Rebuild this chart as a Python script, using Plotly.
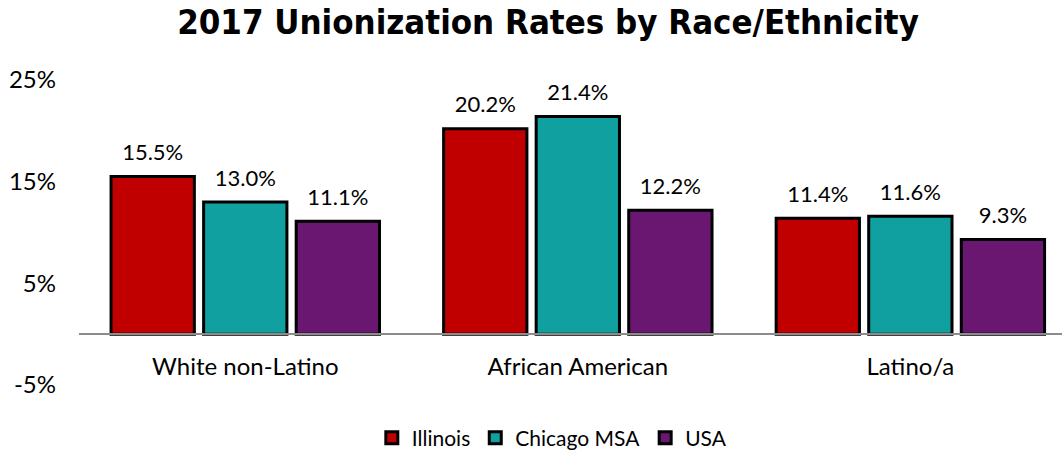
import plotly.graph_objects as go

# data
groups = ["White non-Latino", "African American", "Latino/a"]
illinois = [15.5, 20.2, 11.4]
chicago = [13.0, 21.4, 11.6]
usa = [11.1, 12.2, 9.3]

series = [
    ("Illinois", illinois, "#C00000"),
    ("Chicago MSA", chicago, "#11A0A0"),
    ("USA", usa, "#6A1771"),
]

font_main = "Lato, Open Sans, sans-serif"
gap = 0.165

fig = go.Figure()

for name, vals, col in series:
    fig.add_trace(go.Bar(
        x=groups, y=vals, name=name, offsetgroup=name,
        marker=dict(color=col, line=dict(color="black", width=3)),
    ))

# value labels as text-only scatter, grouped to sit over each bar
for name, vals, col in series:
    fig.add_trace(go.Scatter(
        x=groups, y=vals, offsetgroup=name, mode="text+markers",
        marker=dict(size=16, opacity=0),
        text=["%.1f%%" % v for v in vals], textposition="top center",
        textfont=dict(family=font_main, size=22, color="black"),
        showlegend=False, hoverinfo="skip", cliponaxis=False,
    ))

fig.update_layout(
    width=1062, height=451,
    margin=dict(l=79, r=0, t=80, b=66, autoexpand=False),
    paper_bgcolor="white", plot_bgcolor="white",
    barmode="group", bargap=gap, bargroupgap=0.1,
    scattermode="group", scattergap=gap,
    font=dict(family=font_main, size=20, color="black"),
    title=dict(
        text="<b>2017 Unionization Rates by Race/Ethnicity</b>",
        x=548 / 1062, xanchor="center", y=1 - 22 / 451, yanchor="middle",
        font=dict(family="DejaVu Sans Condensed, DejaVu Sans, sans-serif", size=34.5, color="black"),
    ),
    legend=dict(
        orientation="h", x=0.481, xanchor="center",
        yref="container", y=1 - 438 / 451, yanchor="middle",
        font=dict(family=font_main, size=21), itemwidth=30,
    ),
    xaxis=dict(
        type="category", range=[-0.5, 2.456],
        anchor="free", position=5 / 30, automargin=False,
        showline=True, linecolor="#8c8c8c", linewidth=2,
        showgrid=False, ticks="", ticklabelstandoff=11,
        tickfont=dict(family=font_main, size=24),
    ),
    yaxis=dict(
        range=[-5, 25], tickvals=[-5, 5, 15, 25],
        ticktext=["-5%", "5%", "15%", "25%"], automargin=False,
        showgrid=False, zeroline=False, showline=False,
        ticks="", ticklabelstandoff=22,
        tickfont=dict(family=font_main, size=24),
    ),
)

# drop the page's default body margin so the figure sits at the window corner
fig.write_html("out.html", config={"displayModeBar": False},
               post_script="document.body.style.margin='0';")
